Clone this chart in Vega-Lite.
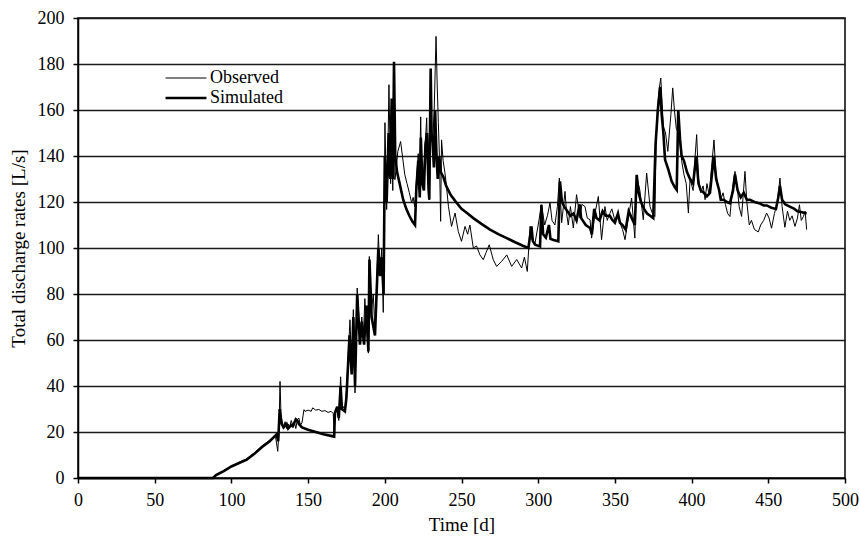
{
  "$schema": "https://vega.github.io/schema/vega-lite/v6.json",
  "width": 767,
  "height": 460,
  "autosize": {"type": "none"},
  "padding": {"left": 78, "top": 18, "right": 14, "bottom": 59},
  "background": "white",
  "config": {
    "font": "Liberation Serif",
    "view": {"stroke": "black", "strokeWidth": 1.5},
    "axis": {
      "labelFont": "Liberation Serif",
      "titleFont": "Liberation Serif",
      "labelFontSize": 18,
      "titleFontSize": 19,
      "titleFontWeight": "normal",
      "labelColor": "black",
      "titleColor": "black",
      "domainColor": "black",
      "domainWidth": 1.5,
      "tickColor": "black",
      "tickWidth": 1.5,
      "tickSize": 5
    }
  },
  "data": {"values": [
    {"s":"Observed","d":0,"v":0},{"s":"Observed","d":88,"v":0},{"s":"Observed","d":90,"v":1.5},{"s":"Observed","d":95,"v":3.2},{"s":"Observed","d":100,"v":5},{"s":"Observed","d":105,"v":6.8},{"s":"Observed","d":110,"v":8.3},{"s":"Observed","d":115,"v":11},{"s":"Observed","d":120,"v":14},{"s":"Observed","d":125,"v":16.5},{"s":"Observed","d":128,"v":18.4},{"s":"Observed","d":129,"v":17},{"s":"Observed","d":130.2,"v":11.6},{"s":"Observed","d":131,"v":20},{"s":"Observed","d":131.7,"v":42},{"s":"Observed","d":132.3,"v":28},{"s":"Observed","d":133,"v":25},{"s":"Observed","d":134,"v":22},{"s":"Observed","d":135,"v":24.5},{"s":"Observed","d":136,"v":21.5},{"s":"Observed","d":137,"v":23.5},{"s":"Observed","d":138,"v":22},{"s":"Observed","d":139,"v":25},{"s":"Observed","d":140,"v":23},{"s":"Observed","d":141,"v":24.5},{"s":"Observed","d":142,"v":21.5},{"s":"Observed","d":143,"v":25.5},{"s":"Observed","d":144,"v":26},{"s":"Observed","d":145,"v":23},{"s":"Observed","d":146,"v":24},{"s":"Observed","d":147.3,"v":29.7},{"s":"Observed","d":148,"v":29},{"s":"Observed","d":150,"v":29.5},{"s":"Observed","d":152,"v":29},{"s":"Observed","d":153,"v":30.5},{"s":"Observed","d":155,"v":29.5},{"s":"Observed","d":157,"v":29.8},{"s":"Observed","d":159,"v":29},{"s":"Observed","d":161,"v":29.3},{"s":"Observed","d":163,"v":28.5},{"s":"Observed","d":165,"v":29},{"s":"Observed","d":166.4,"v":28},{"s":"Observed","d":167,"v":19},{"s":"Observed","d":167.5,"v":28.4},{"s":"Observed","d":169,"v":30},{"s":"Observed","d":170,"v":25},{"s":"Observed","d":171.2,"v":44},{"s":"Observed","d":172,"v":32},{"s":"Observed","d":174,"v":29.7},{"s":"Observed","d":175,"v":38},{"s":"Observed","d":177.3,"v":68.8},{"s":"Observed","d":178.4,"v":48.5},{"s":"Observed","d":179.5,"v":73.2},{"s":"Observed","d":180.6,"v":37},{"s":"Observed","d":182,"v":82.6},{"s":"Observed","d":183.8,"v":61.6},{"s":"Observed","d":185,"v":70},{"s":"Observed","d":186,"v":60},{"s":"Observed","d":187,"v":78},{"s":"Observed","d":188,"v":65},{"s":"Observed","d":189.3,"v":54.3},{"s":"Observed","d":189.9,"v":96.3},{"s":"Observed","d":191.4,"v":73.2},{"s":"Observed","d":192.5,"v":80},{"s":"Observed","d":193.6,"v":63},{"s":"Observed","d":195,"v":90},{"s":"Observed","d":195.8,"v":105.8},{"s":"Observed","d":196.9,"v":87.7},{"s":"Observed","d":198,"v":100},{"s":"Observed","d":199,"v":72},{"s":"Observed","d":199.5,"v":110},{"s":"Observed","d":200.1,"v":154.5},{"s":"Observed","d":201.2,"v":116.7},{"s":"Observed","d":202,"v":140},{"s":"Observed","d":202.7,"v":171},{"s":"Observed","d":203.8,"v":128},{"s":"Observed","d":204.5,"v":150},{"s":"Observed","d":205.2,"v":125},{"s":"Observed","d":206,"v":160},{"s":"Observed","d":206.6,"v":129.7},{"s":"Observed","d":207.5,"v":135},{"s":"Observed","d":208.5,"v":142},{"s":"Observed","d":210.3,"v":146.3},{"s":"Observed","d":211.5,"v":140},{"s":"Observed","d":213,"v":132},{"s":"Observed","d":214.5,"v":128},{"s":"Observed","d":216,"v":124},{"s":"Observed","d":217.5,"v":119.6},{"s":"Observed","d":218.5,"v":122},{"s":"Observed","d":219.5,"v":118},{"s":"Observed","d":220.5,"v":128},{"s":"Observed","d":221.8,"v":141},{"s":"Observed","d":222.5,"v":125},{"s":"Observed","d":223.4,"v":157},{"s":"Observed","d":224,"v":132},{"s":"Observed","d":225.1,"v":129.7},{"s":"Observed","d":226,"v":140},{"s":"Observed","d":227.3,"v":156.6},{"s":"Observed","d":228,"v":135},{"s":"Observed","d":229,"v":121},{"s":"Observed","d":230,"v":150},{"s":"Observed","d":231.2,"v":145.8},{"s":"Observed","d":232.2,"v":160},{"s":"Observed","d":233.4,"v":192},{"s":"Observed","d":234.2,"v":170},{"s":"Observed","d":234.9,"v":154.5},{"s":"Observed","d":235.6,"v":140},{"s":"Observed","d":236.4,"v":111.6},{"s":"Observed","d":237,"v":147},{"s":"Observed","d":238,"v":138},{"s":"Observed","d":239.2,"v":132.7},{"s":"Observed","d":240.2,"v":126.8},{"s":"Observed","d":241.5,"v":118},{"s":"Observed","d":243.5,"v":109.4},{"s":"Observed","d":245.8,"v":115.2},{"s":"Observed","d":247.9,"v":107.2},{"s":"Observed","d":250,"v":102.9},{"s":"Observed","d":252.3,"v":109.4},{"s":"Observed","d":254,"v":106},{"s":"Observed","d":255.5,"v":110},{"s":"Observed","d":257.7,"v":100},{"s":"Observed","d":259.8,"v":100.9},{"s":"Observed","d":262,"v":97},{"s":"Observed","d":264.2,"v":94.9},{"s":"Observed","d":266,"v":98},{"s":"Observed","d":268.1,"v":101.4},{"s":"Observed","d":270.7,"v":94.9},{"s":"Observed","d":272.9,"v":92},{"s":"Observed","d":276.2,"v":94.2},{"s":"Observed","d":279.5,"v":97},{"s":"Observed","d":282.7,"v":92},{"s":"Observed","d":286,"v":95},{"s":"Observed","d":289.2,"v":91.3},{"s":"Observed","d":291,"v":96},{"s":"Observed","d":292.9,"v":89.8},{"s":"Observed","d":294.7,"v":109.4},{"s":"Observed","d":295.6,"v":104},{"s":"Observed","d":297.9,"v":102},{"s":"Observed","d":300,"v":110},{"s":"Observed","d":302.1,"v":118.8},{"s":"Observed","d":304.2,"v":110},{"s":"Observed","d":306,"v":114},{"s":"Observed","d":307.7,"v":119.6},{"s":"Observed","d":309,"v":112},{"s":"Observed","d":310.9,"v":110},{"s":"Observed","d":312.5,"v":118},{"s":"Observed","d":313.8,"v":130.4},{"s":"Observed","d":315.3,"v":111},{"s":"Observed","d":317.5,"v":124.6},{"s":"Observed","d":318.5,"v":115},{"s":"Observed","d":319.6,"v":110},{"s":"Observed","d":321,"v":118},{"s":"Observed","d":322.9,"v":108.7},{"s":"Observed","d":325,"v":123.2},{"s":"Observed","d":327.2,"v":113},{"s":"Observed","d":328.5,"v":119},{"s":"Observed","d":330.5,"v":118},{"s":"Observed","d":332,"v":113},{"s":"Observed","d":333.8,"v":112.3},{"s":"Observed","d":334.8,"v":104.3},{"s":"Observed","d":337,"v":115},{"s":"Observed","d":339.2,"v":122.4},{"s":"Observed","d":341.3,"v":103.6},{"s":"Observed","d":343.5,"v":118},{"s":"Observed","d":345,"v":112},{"s":"Observed","d":346.7,"v":115},{"s":"Observed","d":348,"v":117},{"s":"Observed","d":350,"v":112},{"s":"Observed","d":351.5,"v":114},{"s":"Observed","d":353.3,"v":110.9},{"s":"Observed","d":355,"v":108},{"s":"Observed","d":356.6,"v":103.6},{"s":"Observed","d":358.7,"v":113},{"s":"Observed","d":360.9,"v":121.7},{"s":"Observed","d":363,"v":104.3},{"s":"Observed","d":364.2,"v":131},{"s":"Observed","d":366.3,"v":125},{"s":"Observed","d":368.5,"v":112.3},{"s":"Observed","d":370.7,"v":132.6},{"s":"Observed","d":372.9,"v":118},{"s":"Observed","d":374.5,"v":115},{"s":"Observed","d":376.1,"v":113.7},{"s":"Observed","d":376.8,"v":144.2},{"s":"Observed","d":377.7,"v":160},{"s":"Observed","d":378.8,"v":168.8},{"s":"Observed","d":379.9,"v":173.9},{"s":"Observed","d":381,"v":160},{"s":"Observed","d":381.6,"v":152.9},{"s":"Observed","d":383,"v":150},{"s":"Observed","d":384.5,"v":142},{"s":"Observed","d":385.5,"v":150},{"s":"Observed","d":386.5,"v":158},{"s":"Observed","d":387.7,"v":169.6},{"s":"Observed","d":388.8,"v":160},{"s":"Observed","d":390,"v":152},{"s":"Observed","d":391.3,"v":150},{"s":"Observed","d":392.5,"v":145},{"s":"Observed","d":393.5,"v":138},{"s":"Observed","d":395,"v":132},{"s":"Observed","d":396.5,"v":128},{"s":"Observed","d":397.9,"v":115.2},{"s":"Observed","d":399,"v":130},{"s":"Observed","d":401,"v":125},{"s":"Observed","d":402.3,"v":140},{"s":"Observed","d":403.3,"v":149.3},{"s":"Observed","d":404.5,"v":130},{"s":"Observed","d":406,"v":124},{"s":"Observed","d":407.5,"v":127},{"s":"Observed","d":408.8,"v":121},{"s":"Observed","d":410,"v":128},{"s":"Observed","d":411.5,"v":123},{"s":"Observed","d":413,"v":135},{"s":"Observed","d":414.6,"v":147},{"s":"Observed","d":415.8,"v":133},{"s":"Observed","d":417,"v":128},{"s":"Observed","d":419,"v":121},{"s":"Observed","d":420.5,"v":124},{"s":"Observed","d":422,"v":119},{"s":"Observed","d":423.5,"v":115},{"s":"Observed","d":425,"v":113.7},{"s":"Observed","d":426.5,"v":125},{"s":"Observed","d":428.3,"v":133.3},{"s":"Observed","d":430,"v":125},{"s":"Observed","d":431,"v":118},{"s":"Observed","d":432.6,"v":113.7},{"s":"Observed","d":434.8,"v":133.3},{"s":"Observed","d":436,"v":120},{"s":"Observed","d":437.6,"v":110},{"s":"Observed","d":439,"v":112},{"s":"Observed","d":441,"v":108},{"s":"Observed","d":443.5,"v":107},{"s":"Observed","d":445,"v":110},{"s":"Observed","d":447,"v":112},{"s":"Observed","d":448.9,"v":115.2},{"s":"Observed","d":450.5,"v":113},{"s":"Observed","d":452.1,"v":108.6},{"s":"Observed","d":454,"v":115},{"s":"Observed","d":456,"v":120},{"s":"Observed","d":457.6,"v":130.4},{"s":"Observed","d":459,"v":118},{"s":"Observed","d":460.8,"v":109},{"s":"Observed","d":462.5,"v":116},{"s":"Observed","d":464,"v":112},{"s":"Observed","d":465.5,"v":114},{"s":"Observed","d":467.4,"v":109.4},{"s":"Observed","d":469,"v":113},{"s":"Observed","d":470.3,"v":118.8},{"s":"Observed","d":471.5,"v":112},{"s":"Observed","d":472.9,"v":113.7},{"s":"Observed","d":474,"v":116},{"s":"Observed","d":475,"v":108},
    {"s":"Simulated","d":0,"v":0},{"s":"Simulated","d":88,"v":0},{"s":"Simulated","d":90,"v":1.3},{"s":"Simulated","d":95,"v":3},{"s":"Simulated","d":100,"v":5},{"s":"Simulated","d":105,"v":6.5},{"s":"Simulated","d":110,"v":8},{"s":"Simulated","d":115,"v":10.5},{"s":"Simulated","d":120,"v":13.5},{"s":"Simulated","d":125,"v":16},{"s":"Simulated","d":128,"v":18},{"s":"Simulated","d":129.5,"v":19},{"s":"Simulated","d":130.5,"v":16},{"s":"Simulated","d":131.5,"v":30},{"s":"Simulated","d":132.5,"v":24},{"s":"Simulated","d":134,"v":22},{"s":"Simulated","d":136,"v":23.5},{"s":"Simulated","d":137,"v":21.5},{"s":"Simulated","d":139,"v":23},{"s":"Simulated","d":140,"v":22.5},{"s":"Simulated","d":142,"v":25.5},{"s":"Simulated","d":143,"v":25},{"s":"Simulated","d":144,"v":23.5},{"s":"Simulated","d":146,"v":22},{"s":"Simulated","d":150,"v":21},{"s":"Simulated","d":155,"v":20},{"s":"Simulated","d":160,"v":19},{"s":"Simulated","d":166.4,"v":18.1},{"s":"Simulated","d":167,"v":18},{"s":"Simulated","d":167.5,"v":28.4},{"s":"Simulated","d":169,"v":31},{"s":"Simulated","d":170,"v":26},{"s":"Simulated","d":171.2,"v":40},{"s":"Simulated","d":172,"v":30},{"s":"Simulated","d":174,"v":29},{"s":"Simulated","d":175,"v":35},{"s":"Simulated","d":177,"v":62},{"s":"Simulated","d":178.4,"v":45},{"s":"Simulated","d":179.5,"v":70},{"s":"Simulated","d":180.6,"v":40},{"s":"Simulated","d":182,"v":80},{"s":"Simulated","d":183.8,"v":58},{"s":"Simulated","d":185,"v":68},{"s":"Simulated","d":186.5,"v":58},{"s":"Simulated","d":188,"v":75},{"s":"Simulated","d":189.3,"v":55},{"s":"Simulated","d":190,"v":95},{"s":"Simulated","d":191.4,"v":70},{"s":"Simulated","d":193.6,"v":62},{"s":"Simulated","d":195.8,"v":100},{"s":"Simulated","d":196.9,"v":88},{"s":"Simulated","d":198,"v":96},{"s":"Simulated","d":199.2,"v":80},{"s":"Simulated","d":200,"v":140},{"s":"Simulated","d":201.2,"v":120},{"s":"Simulated","d":202.5,"v":150},{"s":"Simulated","d":203.5,"v":130},{"s":"Simulated","d":204.5,"v":165},{"s":"Simulated","d":205.3,"v":130},{"s":"Simulated","d":206,"v":181},{"s":"Simulated","d":206.8,"v":140},{"s":"Simulated","d":208,"v":133},{"s":"Simulated","d":210,"v":127},{"s":"Simulated","d":212,"v":121},{"s":"Simulated","d":214,"v":117},{"s":"Simulated","d":216,"v":114},{"s":"Simulated","d":218,"v":111.5},{"s":"Simulated","d":219.7,"v":110},{"s":"Simulated","d":220.5,"v":125},{"s":"Simulated","d":221.8,"v":138},{"s":"Simulated","d":222.8,"v":122},{"s":"Simulated","d":223.5,"v":148},{"s":"Simulated","d":224.5,"v":128},{"s":"Simulated","d":225.5,"v":125},{"s":"Simulated","d":226.5,"v":145},{"s":"Simulated","d":227.5,"v":150},{"s":"Simulated","d":228.5,"v":126},{"s":"Simulated","d":229,"v":121},{"s":"Simulated","d":229.9,"v":178},{"s":"Simulated","d":230.5,"v":150},{"s":"Simulated","d":231.2,"v":146},{"s":"Simulated","d":232,"v":135},{"s":"Simulated","d":232.8,"v":160},{"s":"Simulated","d":233.6,"v":142},{"s":"Simulated","d":234.5,"v":130},{"s":"Simulated","d":235.5,"v":140},{"s":"Simulated","d":236.5,"v":133},{"s":"Simulated","d":238.1,"v":131},{"s":"Simulated","d":240,"v":127},{"s":"Simulated","d":243,"v":123},{"s":"Simulated","d":246.9,"v":119.6},{"s":"Simulated","d":250,"v":117},{"s":"Simulated","d":254,"v":115},{"s":"Simulated","d":257.7,"v":113},{"s":"Simulated","d":263,"v":110.5},{"s":"Simulated","d":268.6,"v":108},{"s":"Simulated","d":274,"v":106},{"s":"Simulated","d":279.5,"v":104.3},{"s":"Simulated","d":285,"v":102.5},{"s":"Simulated","d":290,"v":101},{"s":"Simulated","d":293.6,"v":100},{"s":"Simulated","d":295.6,"v":109.4},{"s":"Simulated","d":296.5,"v":103},{"s":"Simulated","d":298,"v":101.4},{"s":"Simulated","d":301.2,"v":100.7},{"s":"Simulated","d":302.1,"v":118.8},{"s":"Simulated","d":303.2,"v":106},{"s":"Simulated","d":305,"v":104.5},{"s":"Simulated","d":307,"v":110},{"s":"Simulated","d":308,"v":104},{"s":"Simulated","d":310,"v":103.5},{"s":"Simulated","d":313.1,"v":102.9},{"s":"Simulated","d":314.2,"v":129},{"s":"Simulated","d":315.5,"v":120},{"s":"Simulated","d":317,"v":118},{"s":"Simulated","d":319,"v":116},{"s":"Simulated","d":321,"v":114},{"s":"Simulated","d":323,"v":115},{"s":"Simulated","d":325,"v":112},{"s":"Simulated","d":327,"v":119},{"s":"Simulated","d":328,"v":113},{"s":"Simulated","d":331,"v":110},{"s":"Simulated","d":333.8,"v":108.7},{"s":"Simulated","d":335,"v":106},{"s":"Simulated","d":336.5,"v":117},{"s":"Simulated","d":338,"v":113},{"s":"Simulated","d":340,"v":112},{"s":"Simulated","d":342,"v":116},{"s":"Simulated","d":344,"v":114},{"s":"Simulated","d":346.7,"v":114},{"s":"Simulated","d":348,"v":112.5},{"s":"Simulated","d":350,"v":111},{"s":"Simulated","d":352,"v":115},{"s":"Simulated","d":353.3,"v":111},{"s":"Simulated","d":355,"v":110},{"s":"Simulated","d":357,"v":108},{"s":"Simulated","d":359,"v":116},{"s":"Simulated","d":361,"v":113},{"s":"Simulated","d":363,"v":110},{"s":"Simulated","d":364.2,"v":131.8},{"s":"Simulated","d":365.5,"v":124},{"s":"Simulated","d":367,"v":120},{"s":"Simulated","d":369,"v":117},{"s":"Simulated","d":371,"v":115},{"s":"Simulated","d":373,"v":114},{"s":"Simulated","d":375,"v":113},{"s":"Simulated","d":376.5,"v":145},{"s":"Simulated","d":378,"v":160},{"s":"Simulated","d":379.5,"v":170},{"s":"Simulated","d":380.5,"v":158},{"s":"Simulated","d":381.6,"v":150},{"s":"Simulated","d":382.7,"v":138.4},{"s":"Simulated","d":384.9,"v":134},{"s":"Simulated","d":387,"v":129},{"s":"Simulated","d":389,"v":126.5},{"s":"Simulated","d":390.3,"v":125.3},{"s":"Simulated","d":391.3,"v":160},{"s":"Simulated","d":392.5,"v":147},{"s":"Simulated","d":393.5,"v":140},{"s":"Simulated","d":395,"v":138},{"s":"Simulated","d":397,"v":133},{"s":"Simulated","d":399,"v":130},{"s":"Simulated","d":401,"v":128},{"s":"Simulated","d":403,"v":140},{"s":"Simulated","d":404.5,"v":128},{"s":"Simulated","d":406,"v":125},{"s":"Simulated","d":408,"v":124},{"s":"Simulated","d":410,"v":122.5},{"s":"Simulated","d":412,"v":124},{"s":"Simulated","d":414.5,"v":140},{"s":"Simulated","d":416,"v":130},{"s":"Simulated","d":418,"v":125},{"s":"Simulated","d":419,"v":121},{"s":"Simulated","d":421,"v":121},{"s":"Simulated","d":423,"v":120},{"s":"Simulated","d":425,"v":119.5},{"s":"Simulated","d":427,"v":125},{"s":"Simulated","d":428.3,"v":132},{"s":"Simulated","d":430,"v":125},{"s":"Simulated","d":432,"v":122},{"s":"Simulated","d":434,"v":124},{"s":"Simulated","d":436,"v":121},{"s":"Simulated","d":438,"v":121},{"s":"Simulated","d":441,"v":120},{"s":"Simulated","d":444,"v":119.5},{"s":"Simulated","d":447,"v":118.5},{"s":"Simulated","d":449,"v":118.5},{"s":"Simulated","d":452,"v":117.5},{"s":"Simulated","d":455,"v":117},{"s":"Simulated","d":456.5,"v":122},{"s":"Simulated","d":457.6,"v":127},{"s":"Simulated","d":459,"v":121},{"s":"Simulated","d":461,"v":119},{"s":"Simulated","d":464,"v":118},{"s":"Simulated","d":467,"v":117},{"s":"Simulated","d":469,"v":116},{"s":"Simulated","d":472,"v":115.5},{"s":"Simulated","d":475,"v":115}
  ]},
  "mark": {"type": "line", "color": "black", "strokeJoin": "miter", "strokeMiterLimit": 4},
  "encoding": {
    "x": {
      "field": "d", "type": "quantitative", "title": "Time [d]",
      "scale": {"domain": [0, 500], "nice": false, "zero": false},
      "axis": {"values": [0,50,100,150,200,250,300,350,400,450,500], "grid": false, "labelPadding": 8, "titlePadding": 6, "labelFlush": false}
    },
    "y": {
      "field": "v", "type": "quantitative", "title": "Total discharge rates [L/s]",
      "scale": {"domain": [0, 200], "nice": false},
      "axis": {"values": [0,20,40,60,80,100,120,140,160,180,200], "grid": true, "gridColor": "#1a1a1a", "gridWidth": 1.3, "gridOpacity": 1, "labelPadding": 9, "titlePadding": 9}
    },
    "strokeWidth": {
      "field": "s", "type": "nominal",
      "scale": {"domain": ["Observed", "Simulated"], "range": [1, 2.6]},
      "legend": {
        "title": null, "orient": "none", "legendX": 99, "legendY": 51,
        "padding": 0,
        "symbolType": "M-4.2,0H4.2", "symbolSize": 95, "symbolStrokeColor": "black",
        "labelFont": "Liberation Serif", "labelFontSize": 18, "labelColor": "black",
        "labelOffset": 15, "rowPadding": 2
      }
    }
  }
}
